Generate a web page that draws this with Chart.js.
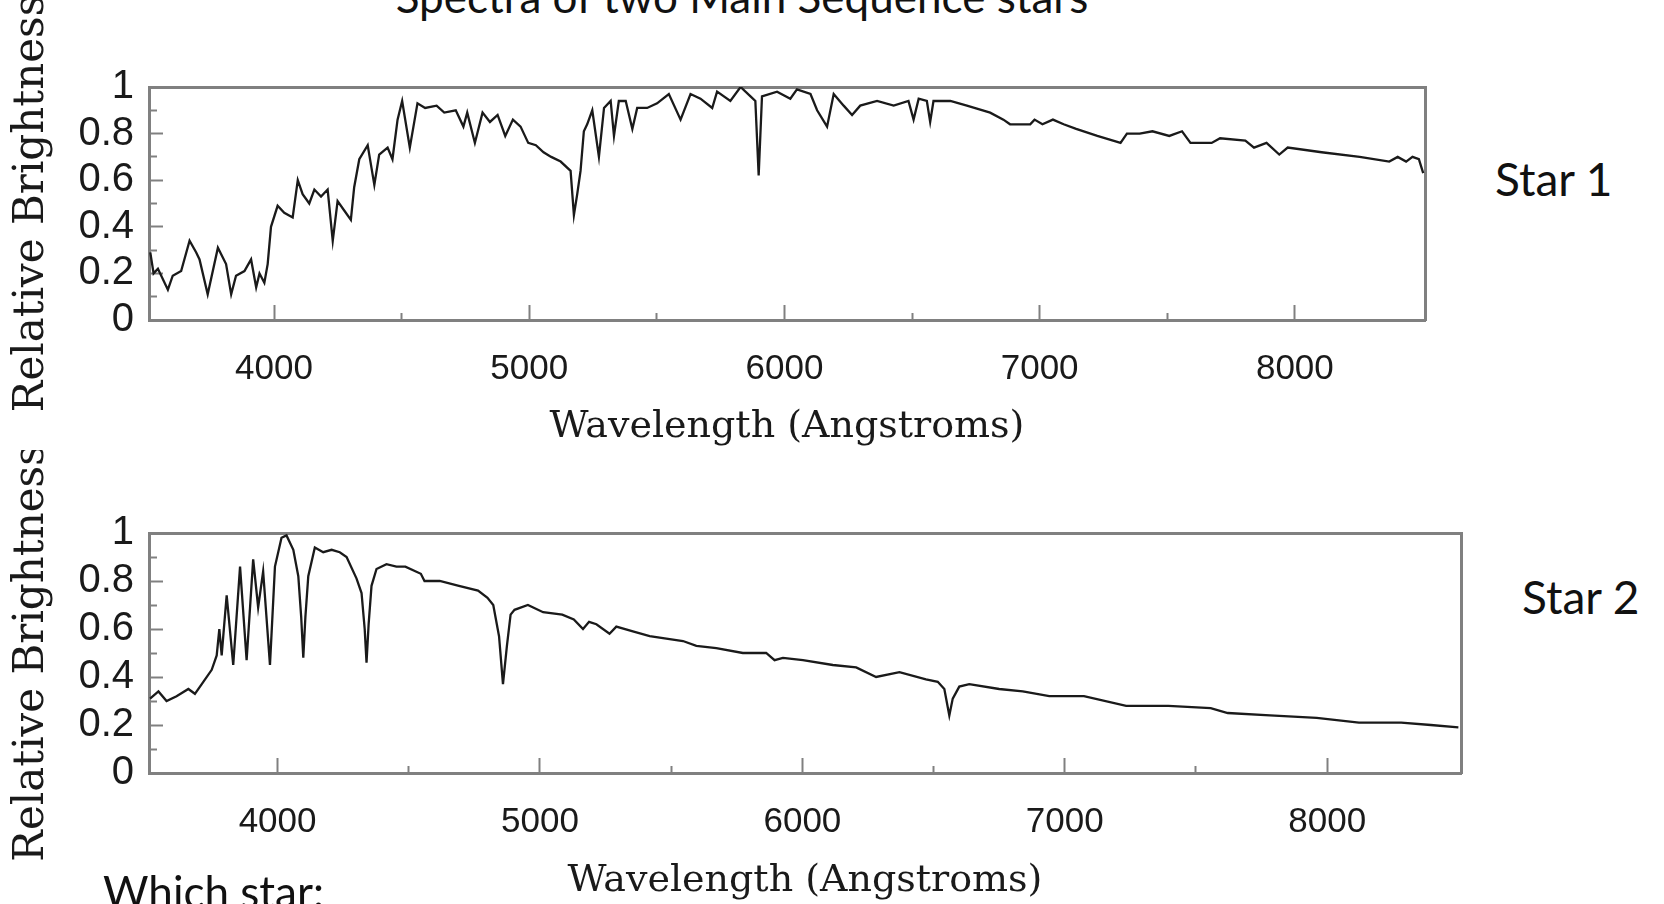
<!DOCTYPE html>
<html>
<head>
<meta charset="utf-8">
<title>Spectra of two Main Sequence stars</title>
<script src="https://cdn.jsdelivr.net/npm/chart.js@4/dist/chart.umd.min.js"></script>
<style>
  html, body { margin: 0; padding: 0; background: #fff; }
  body { width: 1664px; height: 904px; position: relative; overflow: hidden; }
  .txt { position: absolute; font-family: Lato, 'Open Sans', sans-serif; color: #111; line-height: 1; white-space: nowrap; }
  #title { left: 742px; top: -26px; font-size: 44px; transform: translateX(-50%); }
  #star1 { left: 1495px; top: 156px; font-size: 46px; }
  #star2 { left: 1522px; top: 574px; font-size: 46px; }
  #which { left: 103px; top: 869px; font-size: 44px; }
  canvas { position: absolute; left: 0; }
  #c1 { top: 0; }
  #c2 { top: 450px; }
</style>
</head>
<body>
<div class="txt" id="title">Spectra of two Main Sequence stars</div>
<canvas id="c1" width="1480" height="450"></canvas>
<canvas id="c2" width="1480" height="454"></canvas>
<div class="txt" id="star1">Star 1</div>
<div class="txt" id="star2">Star 2</div>
<div class="txt" id="which">Which star:</div>
<script>
// axis ranges and ticks
const waveMin = 3510, waveMax = 8510;
const xMajorTicks = [4000, 5000, 6000, 7000, 8000];
const xMinorTicks = [4500, 5500, 6500, 7500];
const yMajorTicks = [0, 0.2, 0.4, 0.6, 0.8, 1];
const yMinorTicks = [0.1, 0.3, 0.5, 0.7, 0.9];

// Star 1 (cool star, lots of metal lines)
const star1Wave = [3515, 3528, 3545, 3584, 3603, 3636, 3669, 3695, 3708, 3740, 3780, 3812, 3832, 3851, 3884, 3910, 3930, 3943, 3962, 3975,
  3988, 4014, 4040, 4073, 4093, 4112, 4138, 4158, 4184, 4210, 4230, 4249, 4275, 4301, 4314, 4334, 4367, 4393, 4412, 4445,
  4464, 4484, 4502, 4532, 4562, 4592, 4637, 4667, 4712, 4742, 4757, 4787, 4817, 4846, 4876, 4906, 4936, 4966, 4996, 5026,
  5056, 5086, 5123, 5162, 5175, 5188, 5201, 5214, 5227, 5247, 5273, 5293, 5319, 5332, 5351, 5378, 5404, 5423, 5462, 5501,
  5547, 5593, 5632, 5671, 5717, 5736, 5788, 5828, 5867, 5886, 5899, 5912, 5971, 6023, 6049, 6102, 6128, 6167, 6193, 6232,
  6265, 6297, 6363, 6428, 6486, 6506, 6526, 6558, 6571, 6584, 6650, 6715, 6806, 6858, 6884, 6963, 6980, 7011, 7052, 7094,
  7143, 7226, 7317, 7342, 7392, 7442, 7508, 7558, 7591, 7674, 7707, 7806, 7840, 7889, 7939, 7972, 8105, 8254, 8370, 8403,
  8436, 8461, 8486, 8503];
const star1Flux = [0.29, 0.20, 0.22, 0.13, 0.19, 0.21, 0.34, 0.29, 0.26, 0.11, 0.31, 0.24, 0.11, 0.19, 0.21, 0.26, 0.14, 0.20, 0.16, 0.24,
  0.40, 0.49, 0.46, 0.44, 0.60, 0.54, 0.50, 0.56, 0.53, 0.56, 0.34, 0.51, 0.47, 0.43, 0.57, 0.69, 0.75, 0.58, 0.71, 0.74,
  0.69, 0.86, 0.94, 0.74, 0.93, 0.91, 0.92, 0.89, 0.90, 0.83, 0.89, 0.76, 0.89, 0.85, 0.88, 0.79, 0.86, 0.83, 0.76, 0.75,
  0.72, 0.70, 0.68, 0.64, 0.45, 0.54, 0.64, 0.81, 0.84, 0.90, 0.70, 0.91, 0.94, 0.79, 0.94, 0.94, 0.82, 0.91, 0.91, 0.93,
  0.97, 0.86, 0.97, 0.95, 0.91, 0.98, 0.94, 1.00, 0.96, 0.94, 0.62, 0.96, 0.98, 0.95, 0.99, 0.97, 0.90, 0.83, 0.97, 0.92,
  0.88, 0.92, 0.94, 0.92, 0.94, 0.86, 0.95, 0.94, 0.85, 0.94, 0.94, 0.92, 0.89, 0.86, 0.84, 0.84, 0.86, 0.84, 0.86, 0.84,
  0.82, 0.79, 0.76, 0.80, 0.80, 0.81, 0.79, 0.81, 0.76, 0.76, 0.78, 0.77, 0.74, 0.76, 0.71, 0.74, 0.72, 0.70, 0.68, 0.70,
  0.68, 0.70, 0.69, 0.63];

// Star 2 (hot star, strong Balmer lines)
const star2Wave = [3514, 3546, 3577, 3615, 3660, 3685, 3717, 3749, 3768, 3778, 3787, 3796, 3806, 3831, 3857, 3882, 3907, 3926, 3945, 3971,
  3990, 4015, 4034, 4060, 4079, 4090, 4098, 4106, 4117, 4142, 4174, 4206, 4237, 4263, 4301, 4320, 4332, 4339, 4347, 4358,
  4377, 4415, 4453, 4487, 4546, 4560, 4618, 4691, 4764, 4800, 4822, 4844, 4859, 4874, 4888, 4903, 4954, 5012, 5085, 5129,
  5164, 5187, 5215, 5265, 5291, 5354, 5418, 5545, 5596, 5672, 5773, 5862, 5894, 5926, 6002, 6116, 6205, 6281, 6370, 6471,
  6516, 6541, 6560, 6573, 6598, 6636, 6750, 6840, 6941, 7073, 7234, 7395, 7556, 7621, 7782, 7960, 8121, 8282, 8395, 8500];
const star2Flux = [0.31, 0.34, 0.30, 0.32, 0.35, 0.33, 0.38, 0.43, 0.49, 0.60, 0.49, 0.61, 0.74, 0.45, 0.86, 0.47, 0.89, 0.69, 0.84, 0.45,
  0.86, 0.98, 0.99, 0.93, 0.82, 0.65, 0.48, 0.65, 0.82, 0.94, 0.92, 0.93, 0.92, 0.90, 0.81, 0.75, 0.60, 0.46, 0.62, 0.78,
  0.85, 0.87, 0.86, 0.86, 0.83, 0.80, 0.80, 0.78, 0.76, 0.73, 0.70, 0.57, 0.37, 0.53, 0.66, 0.68, 0.70, 0.67, 0.66, 0.64,
  0.60, 0.63, 0.62, 0.58, 0.61, 0.59, 0.57, 0.55, 0.53, 0.52, 0.50, 0.50, 0.47, 0.48, 0.47, 0.45, 0.44, 0.40, 0.42, 0.39,
  0.38, 0.35, 0.24, 0.31, 0.36, 0.37, 0.35, 0.34, 0.32, 0.32, 0.28, 0.28, 0.27, 0.25, 0.24, 0.23, 0.21, 0.21, 0.20, 0.19];

const AXIS_GRAY = '#808080';
const TEXT = '#1a1a1a';

function setTicks(values) {
  return axis => { axis.ticks = values.map(v => ({ value: v })); };
}

// frame-only axis (top / right side of the box)
function frameAxis(position, isX) {
  return {
    type: 'linear', position,
    min: isX ? waveMin : 0, max: isX ? waveMax : 1,
    afterFit: s => { if (isX) s.height = 0; else s.width = 0; },
    grid: { drawOnChartArea: false, drawTicks: false },
    border: { color: AXIS_GRAY, width: 3 },
    ticks: { display: false }
  };
}

function makeChart(id, wave, flux, padTop, padRight, xHeight) {
  const ctx = document.getElementById(id).getContext('2d');
  return new Chart(ctx, {
    type: 'line',
    data: {
      datasets: [{
        data: wave.map((w, i) => ({ x: w, y: flux[i] })),
        borderColor: '#1a1a1a',
        borderWidth: 2.3,
        pointRadius: 0,
        tension: 0,
        fill: false,
        xAxisID: 'x',
        yAxisID: 'y'
      }]
    },
    options: {
      responsive: false,
      animation: false,
      events: [],
      layout: { padding: { top: padTop, right: padRight, left: 0, bottom: 0 } },
      plugins: { legend: { display: false }, tooltip: { enabled: false } },
      scales: {
        x: {
          type: 'linear', position: 'bottom', weight: 1,
          min: waveMin, max: waveMax,
          afterBuildTicks: setTicks(xMajorTicks),
          afterFit: s => { s.height = xHeight; },
          grid: { drawOnChartArea: false, tickLength: -15, tickColor: AXIS_GRAY, tickWidth: 2 },
          border: { color: AXIS_GRAY, width: 3 },
          ticks: {
            autoSkip: false, maxRotation: 0, padding: 43, color: TEXT,
            font: { family: "'Liberation Sans', sans-serif", size: 35 },
            callback: v => String(v)
          },
          title: {
            display: true, text: 'Wavelength (Angstroms)', color: TEXT,
            font: { family: "'DejaVu Serif', serif", size: 38 },
            padding: { top: 0, bottom: 0 }
          }
        },
        xMinor: {
          type: 'linear', position: 'bottom', weight: 0,
          min: waveMin, max: waveMax,
          afterBuildTicks: setTicks(xMinorTicks),
          afterFit: s => { s.height = 0; },
          grid: { drawOnChartArea: false, tickLength: -7, tickColor: AXIS_GRAY, tickWidth: 2 },
          border: { display: false },
          ticks: { display: false }
        },
        xTop: frameAxis('top', true),
        y: {
          type: 'linear', position: 'left', weight: 1,
          min: 0, max: 1,
          afterBuildTicks: setTicks(yMajorTicks),
          afterFit: s => { s.width = 149; },
          grid: { drawOnChartArea: false, tickLength: -14, tickColor: AXIS_GRAY, tickWidth: 2 },
          border: { color: AXIS_GRAY, width: 3 },
          ticks: {
            autoSkip: false, padding: 29, color: TEXT,
            font: { family: "'Liberation Sans', sans-serif", size: 40 },
            callback: v => String(v)
          },
          title: {
            display: true, text: 'Relative Brightness', color: TEXT,
            font: { family: "'DejaVu Serif', serif", size: 42 },
            padding: { top: 7, bottom: 0 }
          }
        },
        yMinor: {
          type: 'linear', position: 'left', weight: 0,
          min: 0, max: 1,
          afterBuildTicks: setTicks(yMinorTicks),
          afterFit: s => { s.width = 0; },
          grid: { drawOnChartArea: false, tickLength: -8, tickColor: AXIS_GRAY, tickWidth: 2 },
          border: { display: false },
          ticks: { display: false }
        },
        yRight: frameAxis('right', false)
      }
    }
  });
}

// top panel: plot box 149..1425 x 87..320
makeChart('c1', star1Wave, star1Flux, 87, 55, 130);
// bottom panel: plot box 149..1461 x 533..773 (canvas starts at 450)
makeChart('c2', star2Wave, star2Flux, 83, 19, 131);
</script>
</body>
</html>
